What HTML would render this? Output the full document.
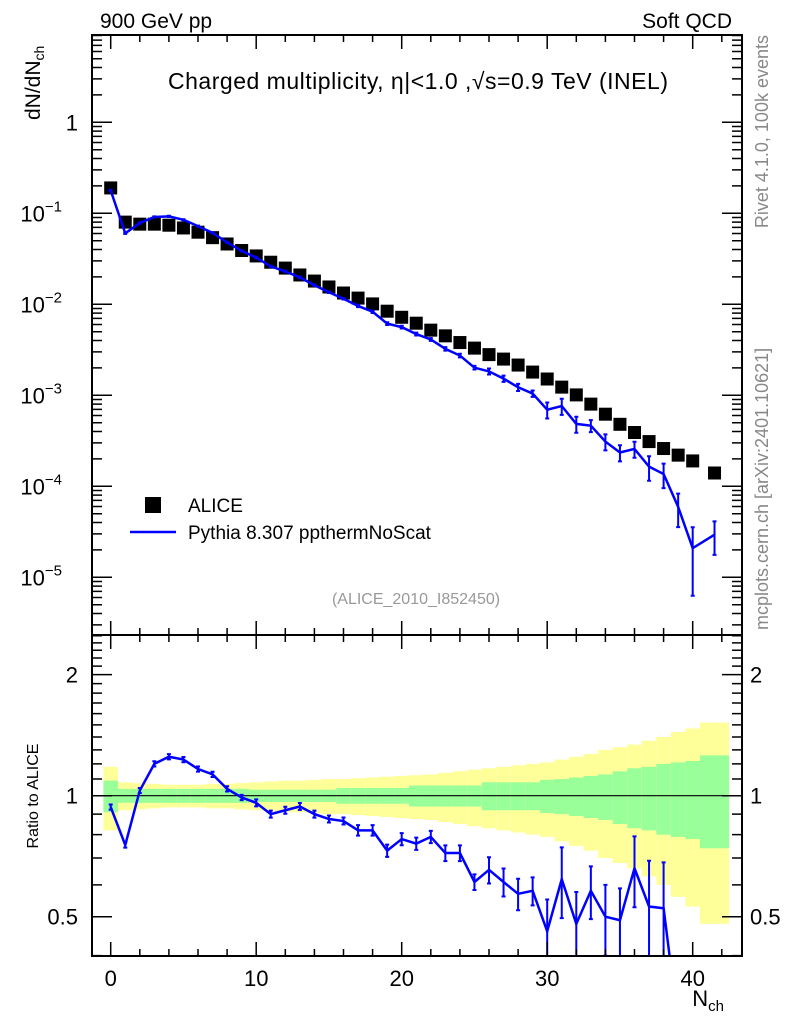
<!DOCTYPE html>
<html><head><meta charset="utf-8">
<style>
html,body{margin:0;padding:0;background:#fff;overflow:hidden;width:786px;height:1024px;}
svg{display:block;font-family:"Liberation Sans",Arial,sans-serif;}
</style></head>
<body>
<svg id="chart" width="786" height="1024" viewBox="0 0 786 1024" xmlns="http://www.w3.org/2000/svg">
<text x="100" y="28" font-size="21">900 GeV pp</text>
<text x="732" y="28" font-size="21" text-anchor="end">Soft QCD</text>
<text x="418" y="89" font-size="23" text-anchor="middle" textLength="500">Charged multiplicity, η|&lt;1.0 ,√s=0.9 TeV (INEL)</text>
<text x="416" y="604" font-size="16" fill="#999" text-anchor="middle">(ALICE_2010_I852450)</text>
<text transform="translate(768,35) rotate(-90)" font-size="18" fill="#888" text-anchor="end">Rivet 4.1.0,  100k events</text>
<text transform="translate(768,630) rotate(-90)" font-size="18" fill="#888">mcplots.cern.ch [arXiv:2401.10621]</text>
<text transform="translate(40,120) rotate(-90)" font-size="21">dN/dN<tspan font-size="14" dy="4">ch</tspan></text>
<text transform="translate(38,796) rotate(-90)" font-size="16" text-anchor="middle">Ratio to ALICE</text>
<text x="724" y="1006" font-size="22" text-anchor="end">N<tspan font-size="15" dy="5">ch</tspan></text>
<g id="layer"></g>
<rect x="145" y="497" width="16" height="16" fill="#000"/>
<text x="188" y="512" font-size="19">ALICE</text>
<line x1="130" y1="532" x2="176" y2="532" stroke="#0000ff" stroke-width="2.5"/>
<text x="188" y="539" font-size="19">Pythia 8.307 ppthermNoScat</text>
</svg>
<script>
const nch = [0,1,2,3,4,5,6,7,8,9,10,11,12,13,14,15,16,17,18,19,20,21,22,23,24,25,26,27,28,29,30,31,32,33,34,35,36,37,38,39,40,41.5];
const binLo = [-0.5,0.5,1.5,2.5,3.5,4.5,5.5,6.5,7.5,8.5,9.5,10.5,11.5,12.5,13.5,14.5,15.5,16.5,17.5,18.5,19.5,20.5,21.5,22.5,23.5,24.5,25.5,26.5,27.5,28.5,29.5,30.5,31.5,32.5,33.5,34.5,35.5,36.5,37.5,38.5,39.5,40.5];
const binHi = [0.5,1.5,2.5,3.5,4.5,5.5,6.5,7.5,8.5,9.5,10.5,11.5,12.5,13.5,14.5,15.5,16.5,17.5,18.5,19.5,20.5,21.5,22.5,23.5,24.5,25.5,26.5,27.5,28.5,29.5,30.5,31.5,32.5,33.5,34.5,35.5,36.5,37.5,38.5,39.5,40.5,42.5];
const aliceVals = [0.190,0.080,0.076,0.076,0.074,0.069,0.062,0.054,0.046,0.039,0.034,0.029,0.025,0.021,0.018,0.0155,0.0133,0.0117,0.0101,0.0084,0.0072,0.0062,0.0052,0.0045,0.0038,0.0033,0.0028,0.0025,0.00215,0.0018,0.00151,0.00123,0.00101,0.0008,0.00062,0.00048,0.00039,0.00031,0.00026,0.00022,0.00019,0.00014];
const aliceStatRel = [0.09,0.04,0.04,0.04,0.04,0.04,0.04,0.04,0.04,0.04,0.035,0.035,0.035,0.035,0.035,0.035,0.045,0.045,0.045,0.045,0.045,0.06,0.06,0.06,0.06,0.06,0.08,0.08,0.08,0.08,0.095,0.1,0.11,0.12,0.13,0.15,0.17,0.18,0.2,0.21,0.22,0.26];
const aliceTotRel = [0.18,0.08,0.075,0.07,0.065,0.065,0.065,0.07,0.07,0.075,0.08,0.085,0.09,0.09,0.095,0.1,0.1,0.105,0.11,0.115,0.12,0.125,0.13,0.14,0.15,0.16,0.17,0.18,0.19,0.2,0.21,0.23,0.25,0.27,0.3,0.32,0.34,0.37,0.4,0.44,0.47,0.52];
const pythiaRatio = [0.937,0.754,1.03,1.20,1.25,1.23,1.165,1.13,1.04,0.99,0.96,0.90,0.92,0.94,0.90,0.875,0.865,0.82,0.82,0.73,0.78,0.76,0.79,0.72,0.72,0.61,0.654,0.61,0.57,0.58,0.46,0.62,0.48,0.58,0.50,0.49,0.66,0.53,0.525,0.27,0.11,0.21];
const pythiaErrRel = [0.015,0.015,0.015,0.015,0.015,0.015,0.015,0.015,0.015,0.015,0.02,0.02,0.02,0.02,0.02,0.02,0.02,0.03,0.03,0.035,0.035,0.035,0.035,0.045,0.045,0.045,0.075,0.08,0.09,0.08,0.2,0.2,0.2,0.15,0.2,0.2,0.2,0.3,0.3,0.4,0.7,0.4];
const xTicksMajor = [0,10,20,30,40];
const mainYDecades = [0,-1,-2,-3,-4,-5];
const mainYLabels = ["1","10","10","10","10","10"];
const ratioLabels = [0.5,1,2];

const NS='http://www.w3.org/2000/svg';
const L=92,R=742,T=35,MB=635,B=956;
const X=v=>110.7+v*14.55;
const Y=v=>122.3-91*Math.log10(v);
const RY=v=>795.7-402*Math.log10(v);
const layer=document.getElementById('layer');
function mk(tag,attrs,parent){const e=document.createElementNS(NS,tag);for(const k in attrs)e.setAttribute(k,attrs[k]);(parent||layer).appendChild(e);return e;}
function clampR(y){return Math.max(MB,Math.min(B,y));}
function clampM(y){return Math.max(T,Math.min(MB,y));}

const bands=mk('g',{});


for(let i=0;i<nch.length;i++){
  const x1=X(binLo[i]),x2=X(binHi[i]);
  const yt=RY(1+aliceTotRel[i]),yb=RY(Math.max(0.01,1-aliceTotRel[i]));
  const r=mk('rect',{x:x1,y:yt,width:x2-x1,height:clampR(yb)-yt,fill:'#ffff99'},bands);
  
  
  const gt=RY(1+aliceStatRel[i]),gb=RY(1-aliceStatRel[i]);
  const g=mk('rect',{x:x1,y:gt,width:x2-x1,height:gb-gt,fill:'#99ff99'},bands);
  
  
}
const one=mk('line',{x1:L,x2:R,y1:RY(1),y2:RY(1),stroke:'#000','stroke-width':1.2});



const clip=mk('clipPath',{id:'rclip'});mk('rect',{x:L,y:MB,width:R-L,height:B-MB},clip);
const rg=mk('g',{'clip-path':'url(#rclip)'});


let pts=nch.map((n,i)=>X(n)+','+RY(pythiaRatio[i])).join(' ');
mk('polyline',{points:pts,fill:'none',stroke:'#0000ff','stroke-width':2.5},rg);
nch.forEach((n,i)=>{const v=pythiaRatio[i],e=v*pythiaErrRel[i];const x=X(n);
  const y1=RY(v+e),y2=RY(Math.max(0.01,v-e));
  const eb=mk('path',{d:`M${x},${y1}V${y2}M${x-2},${y1}h4M${x-2},${y2}h4`,stroke:'#0000ff','stroke-width':2,fill:'none'},rg);
  
  
});

const mclip=mk('clipPath',{id:'mclip'});mk('rect',{x:L,y:T,width:R-L,height:MB-T},mclip);
const mg=mk('g',{'clip-path':'url(#mclip)'});
nch.forEach((n,i)=>{const s=mk('rect',{x:X(n)-6.5,y:Y(aliceVals[i])-6.5,width:13,height:13,fill:'#000'},mg);
  
  });
const mcv=nch.map((n,i)=>aliceVals[i]*pythiaRatio[i]);
const ml=mk('polyline',{points:nch.map((n,i)=>X(n)+','+Y(mcv[i])).join(' '),fill:'none',stroke:'#0000ff','stroke-width':2.5},mg);


nch.forEach((n,i)=>{const v=mcv[i],e=v*pythiaErrRel[i];const x=X(n);
  const y1=Y(v+e),y2=clampM(Y(Math.max(1e-9,v-e)));
  const eb=mk('path',{d:`M${x},${y1}V${y2}M${x-2},${y1}h4M${x-2},${y2}h4`,stroke:'#0000ff','stroke-width':2,fill:'none'},mg);
  
  });

const f1=mk('rect',{x:L,y:T,width:R-L,height:MB-T,fill:'none',stroke:'#000','stroke-width':2});


const f2=mk('rect',{x:L,y:MB,width:R-L,height:B-MB,fill:'none',stroke:'#000','stroke-width':2});



let d='';
for(let v=0;v<=42;v++){const x=X(v);const len=v%10===0?14:(v%2===0?7:0);if(!len)continue;
  d+=`M${x},${T}v${len}M${x},${MB}v${-len}M${x},${MB}v${len}M${x},${B}v${-len}`;}
for(let e=0;e>=-6;e--){for(let m=1;m<10;m++){const v=m*Math.pow(10,e);const y=Y(v);if(y<T||y>MB)continue;
  const len=m===1?20:10;d+=`M${L},${y}h${len}M${R},${y}h${-len}`;}}
[0.4,0.5,0.6,0.7,0.8,0.9,1,1.1,1.2,1.3,1.4,1.5,1.6,1.7,1.8,1.9,2,2.1,2.2,2.3,2.4,2.5].forEach(v=>{const y=RY(v);if(y<MB||y>B)return;
  const len=(v===0.5||v===1||v===2)?20:10;d+=`M${L},${y}h${len}M${R},${y}h${-len}`;});
const tk=mk('path',{d:d,stroke:'#000','stroke-width':1.5,fill:'none'});



xTicksMajor.forEach(v=>{const t=mk('text',{x:X(v),y:986,'font-size':22,'text-anchor':'middle'});t.textContent=v;
  
  });
mainYDecades.forEach((e,i)=>{const y=Y(Math.pow(10,e));const t=mk('text',{x:e===0?78:62,y:y+8,'font-size':22,'text-anchor':'end'});
  t.textContent=mainYLabels[i];
  if(e!==0){const s=mk('tspan',{'font-size':15,dy:-10},t);s.textContent='−'+(-e);}
  
  });
ratioLabels.forEach(v=>{const y=RY(v)+8;
  const t=mk('text',{x:78,y:y,'font-size':22,'text-anchor':'end'});t.textContent=v;
  
  
  const t2=mk('text',{x:750,y:y,'font-size':22});t2.textContent=v;
  
  });
</script>
</body></html>
